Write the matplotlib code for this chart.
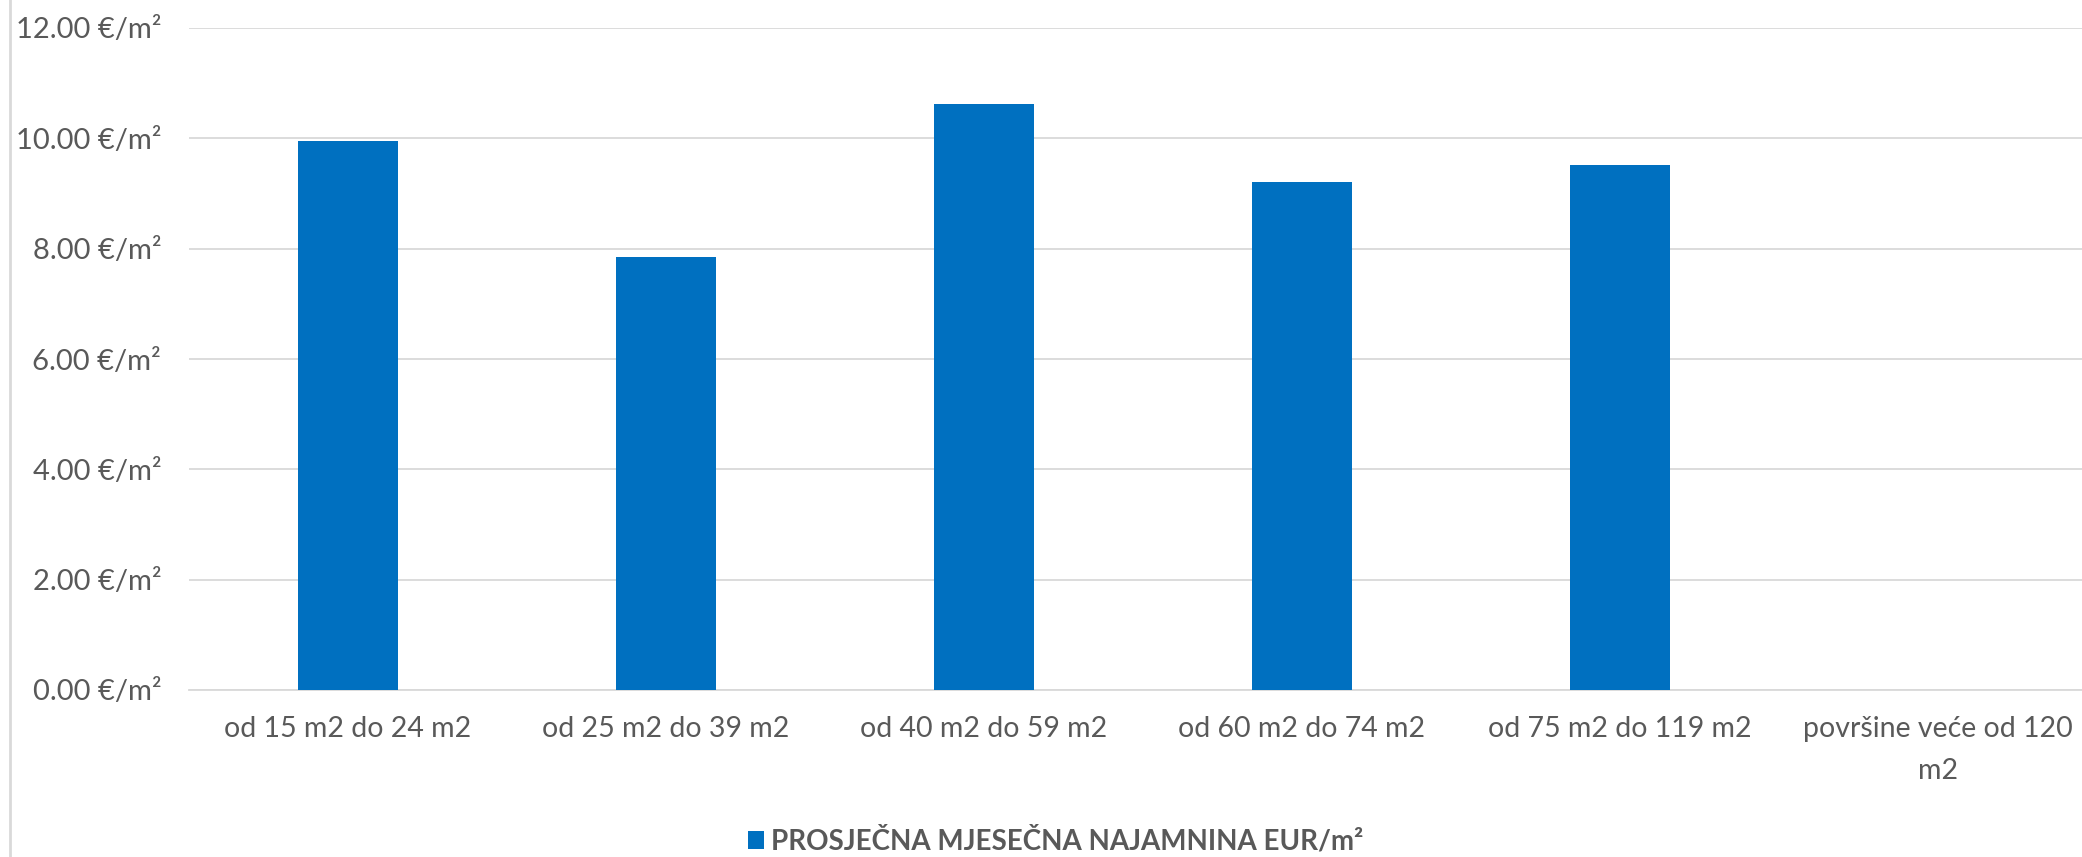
import matplotlib
matplotlib.use("Agg")
import matplotlib.pyplot as plt
from matplotlib.lines import Line2D
from matplotlib.patches import Patch

categories = ["od 15 m2 do 24 m2", "od 25 m2 do 39 m2", "od 40 m2 do 59 m2",
              "od 60 m2 do 74 m2", "od 75 m2 do 119 m2", "površine veće od 120\nm2"]
values = [9.95, 7.85, 10.63, 9.20, 9.52, 0.0]
y_ticks = [0, 2, 4, 6, 8, 10, 12]
y_tick_labels = [f"{v:.2f} €/m²" for v in y_ticks]
series_name = "PROSJEČNA MJESEČNA NAJAMNINA EUR/m²"

plt.rcParams['font.family'] = ['Lato', 'DejaVu Sans']
text_color = "#595959"
bar_color = "#0070C0"
grid_color = "#D9D9D9"

fig = plt.figure(figsize=(20.82, 8.57), dpi=100)
ax = fig.add_axes([189/2082, 1-690/857, 1908/2082, (690-28)/857])

x = list(range(len(categories)))
ax.bar(x, values, width=0.315, color=bar_color, zorder=3)
ax.set_xlim(-0.5, len(categories)-0.5)
ax.set_ylim(0, 12)
ax.grid(axis='y', color=grid_color, linewidth=1.3, zorder=0)
for s in ax.spines.values():
    s.set_visible(False)
ax.spines['bottom'].set_visible(True)
ax.spines['bottom'].set_color(grid_color)
ax.spines['bottom'].set_linewidth(1.3)
ax.tick_params(axis='both', length=0, colors=text_color)
ax.tick_params(axis='y', pad=20)
ax.tick_params(axis='x', pad=19)
ax.set_yticks(y_ticks, labels=y_tick_labels, fontsize=21, color=text_color)
ax.set_xticks(x, labels=categories, linespacing=1.75, fontsize=20.5, color=text_color)

fig.add_artist(Line2D([10/2082, 10/2082], [0, 1], color=grid_color, linewidth=2, transform=fig.transFigure))

leg = fig.legend(handles=[Patch(facecolor=bar_color, label=series_name)],
                 loc='center', bbox_to_anchor=(1056/2082, 1-841/857), frameon=False,
                 handlelength=0.58, handleheight=0.58, handletextpad=0.25,
                 prop={'size': 20, 'weight': 'bold'})
for t in leg.get_texts():
    t.set_color(text_color)

fig.savefig("out.png", dpi=100)
